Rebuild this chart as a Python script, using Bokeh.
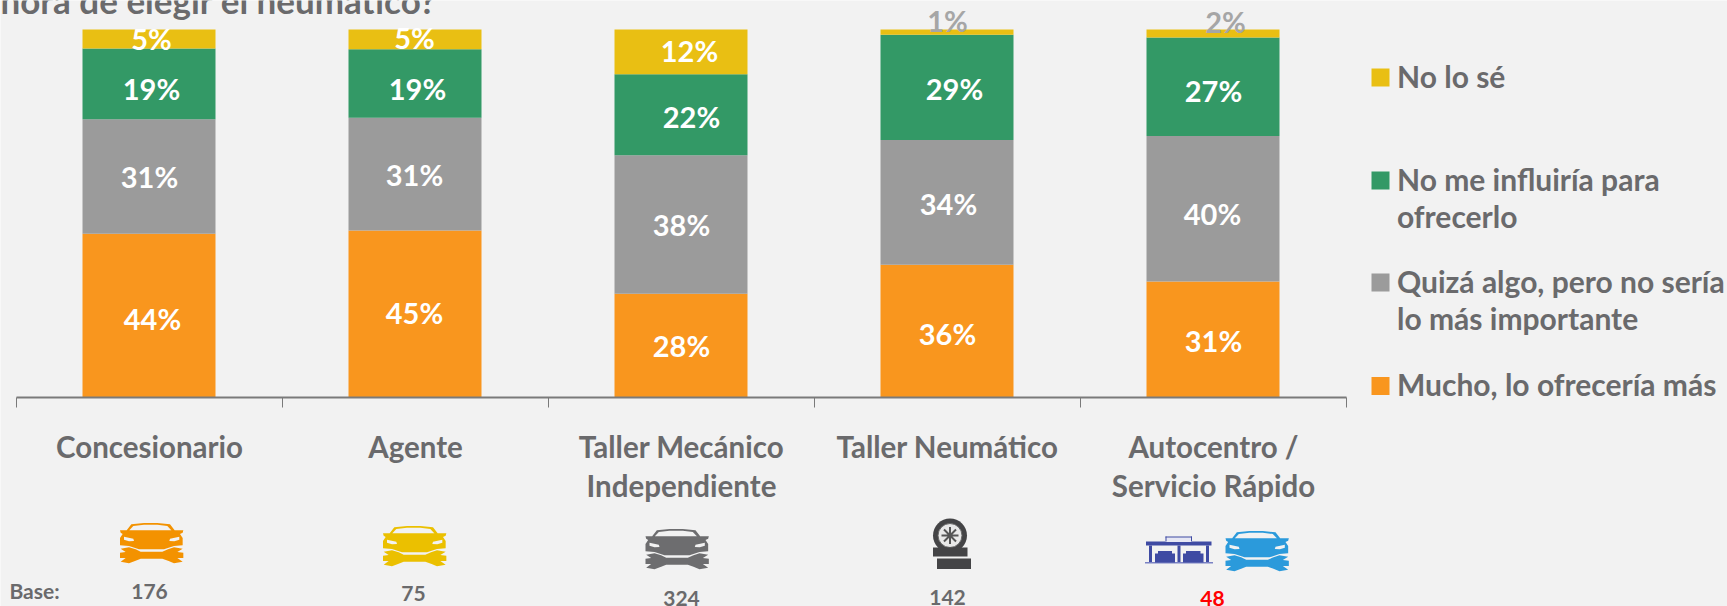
from bokeh.plotting import figure
from bokeh.models import ColumnDataSource, Range1d, LinearAxis, FixedTicker
from bokeh.core.properties import value
from bokeh.embed import file_html
from bokeh.resources import INLINE

# ---------- data ----------
categories = ["Concesionario", "Agente", "Taller Mecánico\nIndependiente", "Taller Neumático", "Autocentro /\nServicio Rápido"]
bases = ["176", "75", "324", "142", "48"]
mucho = [44.4, 45.3, 28.1, 36.0, 31.4]
quiza = [31.2, 30.7, 37.7, 33.9, 39.6]
no_influiria = [19.2, 18.6, 22.0, 28.7, 26.8]
no_se = [5.2, 5.4, 12.2, 1.4, 2.2]
legend_labels = ["No lo sé", "No me influiría para\nofrecerlo", "Quizá algo, pero no sería\nlo más importante", "Mucho, lo ofrecería más"]
title_text = "hora de elegir el neumático?"

# ---------- style ----------
BG = "#f2f2f2"
TXT = "#6a6a6c"
C_ORANGE, C_GRAY, C_GREEN, C_GOLD = "#f9961e", "#9b9b9b", "#339966", "#e9bf13"
FONT = value("Lato")

W, H = 1727, 606


def X(px):   # reference pixel -> category axis
    return (px - 148.5) / 266


def Y(py):   # reference pixel -> percent axis
    return (396.5 - py) / 3.675


p = figure(width=W, height=H, output_backend="svg", toolbar_location=None,
           x_range=Range1d(X(0), X(W)), y_range=Range1d(Y(H), Y(0)),
           x_axis_type=None, y_axis_type=None, min_border=0,
           background_fill_color=BG, border_fill_color=BG, outline_line_color=None)
p.xgrid.visible = False
p.ygrid.visible = False

# ---------- bars ----------
keys = ["mucho", "quiza", "no_influiria", "no_se"]
src = ColumnDataSource(dict(x=list(range(5)), mucho=mucho, quiza=quiza, no_influiria=no_influiria, no_se=no_se))
p.vbar_stack(keys, x="x", width=0.5, source=src, color=[C_ORANGE, C_GRAY, C_GREEN, C_GOLD], line_color=None)

# ---------- axis ----------
ax = LinearAxis(fixed_location=0, ticker=FixedTicker(ticks=[i - 0.5 for i in range(6)]),
                bounds=(-0.5, 4.5), major_tick_in=0, major_tick_out=10, minor_tick_line_color=None,
                axis_line_color="#7a7a7a", axis_line_width=2, major_tick_line_color="#7a7a7a",
                major_label_text_font_size="0px", major_label_text_color=None)
p.add_layout(ax, "below")

# ---------- value labels (hand placed in the original) ----------
lab_x = {"no_se": [151, 414, 689, 947, 1225], "no_influiria": [151, 417, 691, 954, 1213],
         "quiza": [149, 414, 681, 948, 1212], "mucho": [152, 414, 681, 947, 1213]}
lab_y = {"no_se": [37.5, 36.5, 49.5, 19.5, 20.5], "no_influiria": [87.5, 87.5, 115.5, 87.5, 89.5],
         "quiza": [175.5, 173.5, 223.5, 202.5, 213], "mucho": [317.5, 311.5, 344.5, 332.5, 339.5]}
series = dict(mucho=mucho, quiza=quiza, no_influiria=no_influiria, no_se=no_se)
for k in keys:
    cols = ["#a6a6a6" if (k == "no_se" and v < 3) else "#ffffff" for v in series[k]]
    p.text(x=[X(v) for v in lab_x[k]], y=[Y(v) for v in lab_y[k]], text=[f"{round(v)}%" for v in series[k]],
           text_color=cols, text_font=FONT, text_font_style="bold", text_font_size="29px",
           text_align="center", text_baseline="middle")

# ---------- title fragment ----------
p.text(x=[X(436)], y=[Y(-1)], text=[title_text], text_color=TXT, text_font=FONT, text_font_style="bold",
       text_font_size="35px", text_align="right", text_baseline="middle")

# ---------- category labels ----------
cat_x = [149, 415, 681, 947, 1213]
p.text(x=[X(v) for v in cat_x], y=[Y(428)] * 5, text=categories, text_color=TXT, text_font=FONT,
       text_font_style="bold", text_font_size="29.5px", text_align="center", text_baseline="top",
       text_line_height=1.13)

# ---------- base row ----------
base_x = [149, 413, 681, 947, 1212]
base_y = [591, 593, 598, 597, 598]
p.text(x=[X(34)], y=[Y(590)], text=["Base:"], text_color=TXT, text_font=FONT, text_font_style="bold",
       text_font_size="21px", text_align="center", text_baseline="middle")
p.text(x=[X(v) for v in base_x], y=[Y(v) for v in base_y], text=bases,
       text_color=[TXT, TXT, TXT, TXT, "#ff0000"], text_font=FONT, text_font_style="bold",
       text_font_size="21px", text_align="center", text_baseline="middle")

# ---------- legend ----------
leg_y = [77, 180, 282, 385.5]
leg_colors = [C_GOLD, C_GREEN, C_GRAY, C_ORANGE]
p.quad(left=[X(1371)] * 4, right=[X(1389)] * 4, top=[Y(v - 9) for v in leg_y], bottom=[Y(v + 9) for v in leg_y],
       color=leg_colors, line_color=None)
p.text(x=[X(1396.5)] * 4, y=[Y(v - 20) for v in leg_y], text=legend_labels, text_color=TXT, text_font=FONT,
       text_font_style="bold", text_font_size="30px", text_align="left", text_baseline="top",
       text_line_height=1.04)

# ---------- icons ----------
CAR = [(28, 43), (48, 43), (62, 25), (100, 21), (140, 21), (178, 25), (192, 43), (218, 43), (216, 50), (208, 54),
       (216, 66), (216, 88), (190, 90), (160, 100), (85, 100), (55, 90), (28, 88), (28, 66), (36, 54), (30, 50)]
GLASS = [(56, 43), (68, 30), (100, 26), (140, 26), (170, 30), (182, 43)]
LAMP_L = [(40, 62), (68, 68), (70, 75), (55, 76), (40, 71)]
LAMP_R = [(246 - a, b) for a, b in LAMP_L]
WRENCH = [(30, 98), (55, 94), (75, 100), (90, 107), (155, 107), (172, 100), (190, 94), (216, 98), (200, 108),
          (218, 110), (218, 126), (200, 126), (216, 137), (190, 142), (172, 134), (155, 128), (90, 128), (75, 134),
          (55, 142), (30, 137), (45, 126), (28, 126), (28, 110), (45, 108)]


def car_icon(left, top, color):
    def poly(pts, c):
        p.patch([X(left + (a - 28) / 3) for a, b in pts], [Y(top + (b - 21) / 3) for a, b in pts],
                color=c, line_color=None)
    poly(CAR, color)
    poly(GLASS, BG)
    poly(LAMP_L, BG)
    poly(LAMP_R, BG)
    poly(WRENCH, color)


car_icon(119.5, 522.5, "#f39200")
car_icon(382.5, 525.5, "#ebc000")
car_icon(645, 528.5, "#6d6d6f")
car_icon(1225, 530.5, "#2b9adb")


def box(l, r, t, b, c, **kw):
    p.quad(left=[X(l)], right=[X(r)], top=[Y(t)], bottom=[Y(b)], color=c, line_color=None, **kw)


# tyre stack
TY = "#444446"
p.scatter(x=[X(949.5)], y=[Y(535)], size=34, color=TY, line_color=None)
p.scatter(x=[X(949.5)], y=[Y(535)], size=24, color="#e8e8e8", line_color="#666666", line_width=1)
p.scatter(x=[X(949.5)], y=[Y(535)], size=17, marker="asterisk", line_color="#555555", line_width=2, fill_color=None)
box(932.5, 967, 547, 556, TY)
box(936.5, 970.5, 558, 568.5, TY)

# service-station icon
GB = "#3f4ba3"
box(1145.5, 1211, 541, 545, GB)
box(1165, 1191.5, 536.5, 541.5, "#e6e7f4", line_width=0)
box(1165, 1191.5, 536, 537, GB)
box(1165, 1166, 536, 541, GB)
box(1190.5, 1191.5, 536, 541, GB)
box(1148.5, 1151.5, 545, 562, GB)
box(1177, 1180, 545, 562, GB)
box(1205.5, 1208.5, 545, 562, GB)
box(1144.5, 1212.5, 561.5, 563, "#7a82c4")
box(1154.5, 1174.5, 553, 562, GB)
box(1182.5, 1203, 553, 562, GB)
box(1157.5, 1171.5, 550.5, 554, GB)
box(1185.5, 1200, 550.5, 554, GB)

open("out.html", "w").write(file_html(p, INLINE))
